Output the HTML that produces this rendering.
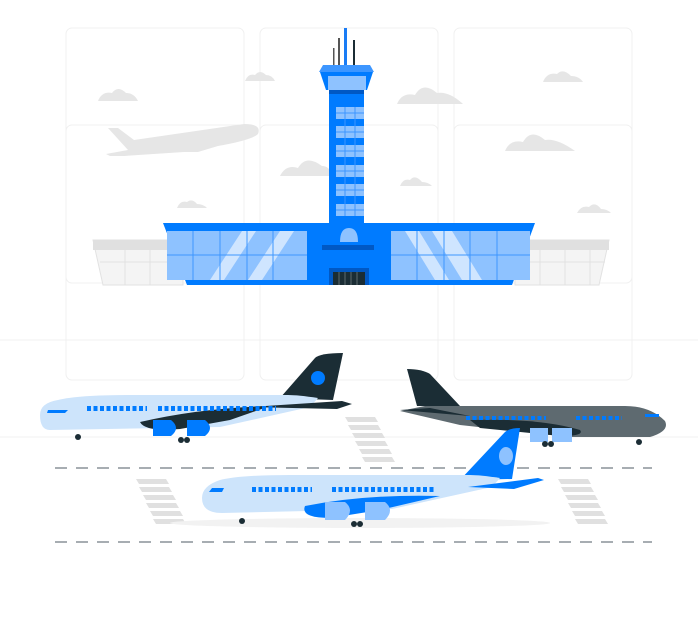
<!DOCTYPE html><html><head><style>body{margin:0;background:#fff}svg{display:block}</style></head><body>
<svg width="698" height="640" viewBox="0 0 698 640" xmlns="http://www.w3.org/2000/svg">
<g fill="none" stroke="#f0f0f0" stroke-width="1">
<rect x="66" y="28" width="178" height="255" rx="6"/><rect x="260" y="28" width="178" height="255" rx="6"/><rect x="454" y="28" width="178" height="255" rx="6"/>
<rect x="66" y="125" width="178" height="255" rx="6"/><rect x="260" y="125" width="178" height="255" rx="6"/><rect x="454" y="125" width="178" height="255" rx="6"/>
<line x1="0" y1="340" x2="698" y2="340"/><line x1="0" y1="437" x2="698" y2="437"/>
</g>
<g fill="#e6e6e6">
<path d="M98 101 q4-10 14-8 q6-8 14 0 q8 0 12 8z"/><path d="M245 81 q3-8 10-6 q5-6 11 0 q6 0 9 6z"/>
<path d="M397 104 q5-12 18-9 q8-14 22-2 q12-2 26 11z"/><path d="M280 176 q6-12 18-8 q8-14 24-2 q8 0 10 10z"/>
<path d="M400 186 q3-8 10-6 q5-6 12 2 q6 0 10 4z"/><path d="M177 208 q3-8 10-6 q5-4 10 2 q6 0 10 4z"/>
<path d="M543 82 q4-10 14-8 q6-6 14 2 q8 0 12 6z"/><path d="M505 151 q5-12 18-9 q8-14 22-2 q12-2 30 11z"/><path d="M577 213 q4-8 12-6 q6-6 12 2 q6 0 10 4z"/>
<path d="M108 128 l10 0 l16 12 l110-16 q18 0 14 10 q-6 6-40 12 l-20 6 h-14 l-60 4 h-14 l-4-2 l22-4z"/>
</g>
<g fill="#f4f4f4" stroke="#e2e2e2">
<path d="M93 240 h90 v45 h-80z"/><path d="M515 240 h94 l-10 45 h-84z"/>
</g>
<g stroke="#e2e2e2"><path d="M100 262h83M125 250v35M150 250v35M515 262h90M540 250v35M565 250v35M590 250v35"/></g>
<rect x="93" y="240" width="90" height="10" fill="#e0e0e0"/><rect x="515" y="240" width="94" height="10" fill="#e0e0e0"/>
<rect x="338" y="38" width="2" height="28" fill="#555"/><rect x="344" y="28" width="3" height="38" fill="#1a7cf5"/><rect x="333" y="48" width="1.5" height="18" fill="#555"/><rect x="353" y="40" width="2" height="26" fill="#1b2d35"/>
<path d="M323 65 h47 l4 7 h-55z" fill="#3d96ff"/>
<path d="M320 72 h53 l-6 18 h-41z" fill="#007bff"/>
<rect x="328" y="76" width="38" height="14" fill="#8ec2ff"/>
<rect x="329" y="90" width="35" height="135" fill="#007bff"/><rect x="329" y="90" width="35" height="4" fill="#0058c4"/>
<g fill="#8ec2ff"><rect x="336" y="107" width="28" height="12"/><rect x="336" y="126" width="28" height="12"/><rect x="336" y="145" width="28" height="12"/><rect x="336" y="165" width="28" height="12"/><rect x="336" y="184" width="28" height="12"/><rect x="336" y="204" width="28" height="12"/></g>
<g stroke="#3d96ff"><path d="M345 107v109M355 107v109M336 113h28M336 132h28M336 151h28M336 171h28M336 190h28M336 210h28"/></g>
<path d="M163 223 h372 l-23 62 h-325z" fill="#007bff"/>
<rect x="167" y="231" width="140" height="49" fill="#8ec2ff"/><rect x="391" y="231" width="139" height="49" fill="#8ec2ff"/>
<g fill="#cfe5ff"><path d="M210 280 l32-49 h14 l-32 49z"/><path d="M248 280 l32-49 h14 l-32 49z"/><path d="M405 231 h14 l30 49 h-14z"/><path d="M432 231 h20 l30 49 h-20z"/></g>
<g stroke="#3d96ff" stroke-width="1"><path d="M193 231v49M220 231v49M247 231v49M273 231v49M167 255h140M417 231v49M444 231v49M470 231v49M497 231v49M391 255h139"/></g>
<rect x="322" y="245" width="52" height="5" fill="#0058c4"/>
<path d="M340 242 q0-14 9-14 q9 0 9 14z" fill="#8ec2ff"/>
<rect x="329" y="268" width="40" height="17" fill="#0058c4"/><rect x="333" y="272" width="32" height="13" fill="#1b2d35"/>
<g stroke="#5e6a70"><path d="M339 272v13M345 272v13M351 272v13M357 272v13"/></g>
<g stroke="#8a9299" stroke-width="1.5" stroke-dasharray="12 9"><line x1="55" y1="468" x2="652" y2="468"/><line x1="55" y1="542" x2="652" y2="542"/></g>
<g fill="#e0e0e0">
<path d="M345 417h30l3 5h-30z M348 425h30l3 5h-30z M352 433h30l3 5h-30z M355 441h30l3 5h-30z M359 449h30l3 5h-30z M362 457h30l3 5h-30z"/>
<path d="M136 479h30l3 5h-30z M139 487h30l3 5h-30z M143 495h30l3 5h-30z M146 503h30l3 5h-30z M150 511h30l3 5h-30z M153 519h30l3 5h-30z"/>
<path d="M558 479h30l3 5h-30z M561 487h30l3 5h-30z M565 495h30l3 5h-30z M568 503h30l3 5h-30z M572 511h30l3 5h-30z M575 519h30l3 5h-30z"/>
</g>
<ellipse cx="360" cy="523" rx="190" ry="5" fill="#f2f2f2"/>
<path d="M280 398 l35-40 q5-5 28-5 l-10 47z" fill="#1b2d35"/><circle cx="318" cy="378" r="7" fill="#007bff"/>
<path d="M58 400 q20-5 70-5 h160 q10 0 30 3 l-8 9 l-90 20 l-170 3 q-10 0-10-15 q0-12 18-15z" fill="#cde4fb"/>
<path d="M250 407 l92-6 l10 3 l-15 5z" fill="#1b2d35"/>
<path d="M140 422 q60-14 130-16 l-40 14 l-50 9 q-35 3-40-7z" fill="#1b2d35"/>
<path d="M153 420 h18 q10 8 0 16 h-18z" fill="#007bff"/><path d="M187 420 h18 q10 8 0 16 h-18z" fill="#007bff"/>
<path d="M48 410 h20 l-3 3 h-18z" fill="#007bff"/>
<g stroke="#007bff" stroke-width="5" stroke-dasharray="4 2.5"><line x1="87" y1="408.5" x2="147" y2="408.5"/><line x1="158" y1="408.5" x2="276" y2="408.5"/></g>
<circle cx="78" cy="437" r="3" fill="#1b2d35"/><circle cx="181" cy="440" r="3" fill="#1b2d35"/><circle cx="187" cy="440" r="3" fill="#1b2d35"/>
<path d="M407 369 q15 0 23 5 l30 32 h-43z" fill="#1b2d35"/>
<path d="M425 406 h200 q25 0 40 15 q5 10-15 16 h-80 l-110-12 l-60-14z" fill="#5e6a70"/>
<path d="M400 410 l30-2 l40 8 z" fill="#1b2d35"/>
<path d="M470 420 q70-2 110 10 q5 6-20 6 l-80-8z" fill="#1b2d35"/>
<path d="M530 428 h18 v14 h-18z M552 428 h20 v14 h-20z" fill="#8ec2ff"/>
<g stroke="#007bff" stroke-width="4" stroke-dasharray="4 2.5"><line x1="466" y1="418" x2="546" y2="418"/><line x1="576" y1="418" x2="622" y2="418"/></g>
<rect x="645" y="414" width="14" height="3" fill="#007bff"/>
<circle cx="639" cy="442" r="3" fill="#1b2d35"/><circle cx="545" cy="444" r="3" fill="#1b2d35"/><circle cx="551" cy="444" r="3" fill="#1b2d35"/>
<path d="M460 480 l45-48 q5-4 15-4 l-8 51z" fill="#007bff"/><ellipse cx="506" cy="456" rx="7" ry="9" fill="#8ec2ff"/>
<path d="M220 480 q20-5 70-5 h180 q10 0 30 3 l-8 9 l-100 22 l-170 4 q-20 0-20-15 q0-12 18-18z" fill="#cde4fb"/>
<path d="M468 487 l70-9 l6 2 l-30 9z" fill="#007bff"/>
<path d="M212 488 h12 l-2 4 h-13z" fill="#007bff"/>
<path d="M305 506 q60-12 135-10 l-60 14 l-50 8 q-30 0-25-12z" fill="#007bff"/>
<path d="M325 502 h20 q10 8 0 18 h-20z M365 502 h20 q10 8 0 18 h-20z" fill="#8ec2ff"/>
<g stroke="#007bff" stroke-width="5" stroke-dasharray="4 2.5"><line x1="252" y1="489.5" x2="312" y2="489.5"/><line x1="332" y1="489.5" x2="436" y2="489.5"/></g>
<circle cx="242" cy="521" r="3" fill="#1b2d35"/><circle cx="354" cy="524" r="3" fill="#1b2d35"/><circle cx="360" cy="524" r="3" fill="#1b2d35"/>
</svg>
</body></html>
